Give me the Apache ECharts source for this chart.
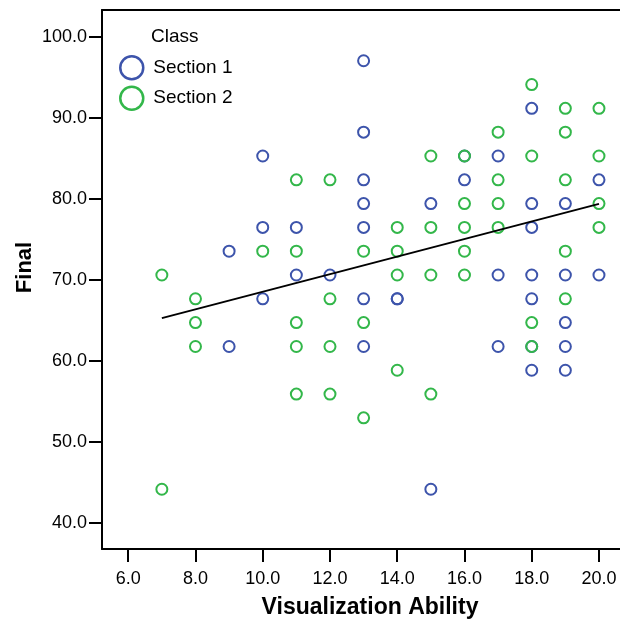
<!DOCTYPE html>
<html>
<head>
<meta charset="utf-8">
<script src="https://cdn.jsdelivr.net/npm/echarts@6/dist/echarts.min.js"></script>
<style>
  html, body { margin: 0; padding: 0; background: #fff; }
  #chart { width: 620px; height: 624px; }
</style>
</head>
<body>
<div id="chart"></div>
<script>
// Section 1 scores: visualization ability (x) vs final (y)
var sec1X = [9, 9, 10, 10, 10, 11, 11, 12, 13, 13, 13, 13, 13, 13, 13, 14, 14, 15, 15, 16, 16,
             17, 17, 17, 18, 18, 18, 18, 18, 18, 18, 19, 19, 19, 19, 19, 20, 20];
var sec1Y = [73.53, 61.76, 85.29, 76.47, 67.65, 76.47, 70.59, 70.59, 97.06, 88.24, 82.35, 79.41, 76.47, 67.65, 61.76, 67.65, 67.65, 79.41, 44.12, 82.35, 85.29,
             85.29, 70.59, 61.76, 91.18, 79.41, 76.47, 70.59, 67.65, 61.76, 58.82, 79.41, 70.59, 64.71, 61.76, 58.82, 82.35, 70.59];

// Section 2 scores
var sec2X = [7, 7, 8, 8, 8, 10, 11, 11, 11, 11, 11, 12, 12, 12, 12, 13, 13, 13, 14, 14, 14, 14,
             15, 15, 15, 15, 16, 16, 16, 16, 16, 17, 17, 17, 17, 18, 18, 18, 18, 19, 19, 19, 19, 19, 20, 20, 20, 20];
var sec2Y = [70.59, 44.12, 67.65, 64.71, 61.76, 73.53, 82.35, 73.53, 64.71, 61.76, 55.88, 82.35, 67.65, 61.76, 55.88, 73.53, 64.71, 52.94, 76.47, 73.53, 70.59, 58.82,
             85.29, 76.47, 70.59, 55.88, 85.29, 79.41, 76.47, 73.53, 70.59, 88.24, 82.35, 79.41, 76.47, 94.12, 85.29, 64.71, 61.76, 91.18, 88.24, 82.35, 73.53, 67.65, 91.18, 85.29, 79.41, 76.47];

// Fit line end points (total sample)
var fitX = [7, 20];
var fitY = [65.26, 79.38];

// Axis tick values
var xTicks = [6, 8, 10, 12, 14, 16, 18, 20];
var yTicks = [40, 50, 60, 70, 80, 90, 100];

var classes = ['Section 1', 'Section 2'];
var colors = ['#3d54ab', '#33b74a'];

function pairs(xs, ys) {
  return xs.map(function (x, i) { return [x, ys[i]]; });
}

var FONT = "'Liberation Sans', Arial, sans-serif";
var fmt = function (v) { return Number(v).toFixed(1); };

var chart = echarts.init(document.getElementById('chart'), null, { renderer: 'canvas' });

chart.setOption({
  backgroundColor: '#ffffff',
  animation: false,
  textStyle: { fontFamily: FONT },
  grid: { left: 102, right: 0, top: 10, bottom: 75, containLabel: false },
  xAxis: [{
    type: 'value',
    min: 5.22, max: 20.625,
    name: 'Visualization Ability',
    nameLocation: 'middle',
    nameGap: 47,
    nameTextStyle: { fontFamily: FONT, fontSize: 23, fontWeight: 'bold', color: '#000', padding: [0, 0, 0, 18] },
    axisLine: { show: true, onZero: false, lineStyle: { color: '#000', width: 2 } },
    axisTick: { show: true, length: 13, customValues: xTicks, lineStyle: { color: '#000', width: 2 } },
    axisLabel: { customValues: xTicks, formatter: fmt, fontFamily: FONT, fontSize: 18, color: '#000', margin: 21 },
    splitLine: { show: false }
  }, {
    type: 'value',
    position: 'top',
    min: 5.22, max: 20.625,
    axisLine: { show: true, onZero: false, lineStyle: { color: '#000', width: 2 } },
    axisTick: { show: false },
    axisLabel: { show: false },
    splitLine: { show: false }
  }],
  yAxis: {
    type: 'value',
    min: 36.74, max: 103.33,
    name: 'Final',
    nameLocation: 'middle',
    nameGap: 66,
    nameMoveOverlap: false,
    nameRotate: 90,
    nameTextStyle: { fontFamily: FONT, fontSize: 22, fontWeight: 'bold', color: '#000', padding: [0, 0, 0, 24] },
    axisLine: { show: true, onZero: false, lineStyle: { color: '#000', width: 2 } },
    axisTick: { show: true, length: 13, customValues: yTicks, lineStyle: { color: '#000', width: 2 } },
    axisLabel: { customValues: yTicks, formatter: fmt, fontFamily: FONT, fontSize: 18, color: '#000', margin: 15 },
    splitLine: { show: false }
  },
  legend: {
    orient: 'vertical',
    left: 119,
    top: 55,
    padding: 0,
    itemWidth: 23,
    itemHeight: 23,
    itemGap: 5,
    icon: 'circle',
    textStyle: { fontFamily: FONT, fontSize: 19, color: '#000', padding: [0, 0, 0, 5] },
    data: classes.map(function (c, i) {
      return { name: c, itemStyle: { color: 'rgba(0,0,0,0)', borderColor: colors[i], borderWidth: 2.5 } };
    })
  },
  graphic: [{
    type: 'text',
    left: 151,
    top: 27,
    style: { text: 'Class', font: '19px ' + FONT, fill: '#000' }
  }],
  series: [{
    name: classes[0],
    type: 'scatter',
    symbol: 'circle',
    symbolSize: 11,
    itemStyle: { color: 'rgba(0,0,0,0)', borderColor: colors[0], borderWidth: 2, opacity: 1 },
    emphasis: { disabled: true },
    data: pairs(sec1X, sec1Y),
    z: 2
  }, {
    name: classes[1],
    type: 'scatter',
    symbol: 'circle',
    symbolSize: 11,
    itemStyle: { color: 'rgba(0,0,0,0)', borderColor: colors[1], borderWidth: 2, opacity: 1 },
    emphasis: { disabled: true },
    data: pairs(sec2X, sec2Y),
    z: 3
  }, {
    name: 'Fit',
    type: 'line',
    symbol: 'none',
    silent: true,
    lineStyle: { color: '#000', width: 2 },
    data: pairs(fitX, fitY),
    z: 4
  }]
});
</script>
</body>
</html>
